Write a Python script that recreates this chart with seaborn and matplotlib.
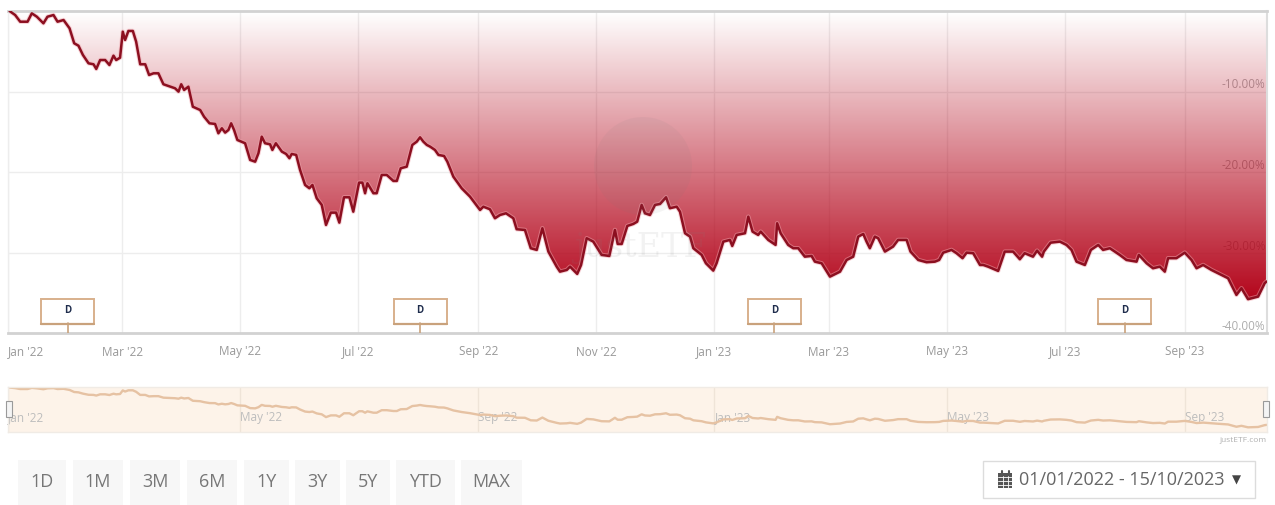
import numpy as np
import pandas as pd
import matplotlib
matplotlib.use("Agg")
import matplotlib.pyplot as plt
import matplotlib.dates as mdates
from matplotlib.patches import Rectangle, Circle
from matplotlib.transforms import ScaledTranslation
import seaborn as sns

# ---- data -------------------------------------------------------------
days = [0.8,3.7,6.3,10.1,12.3,14.9,18.3,20.4,23.5,25.6,28.7,31.8,34.2,36.4,38.7,41.6,44.2,45.6,47.6,50.2,
        52.4,54.5,55.9,57.9,59.3,60.5,62.2,64.5,66.2,68.3,70.9,72.9,75.2,77.7,80.3,83.8,86.3,88.1,89.5,91,
        93.2,95.5,99.3,101.3,104.1,107,108.7,110.5,112.2,113.9,115.3,116.8,118.5,122.5,125.1,127.7,129.4,131.1,132.8,135.4,
        136.6,138.4,141.5,143.7,145.4,146.6,148.9,150.9,153.5,155.7,157.3,159.5,162.1,164.3,166.8,169.5,171.2,173.6,176.4,178.4,
        181.4,183.1,184.5,185.7,188.8,190.5,193.1,195.7,199.1,200.9,202.9,206,208.9,211.2,212.9,214.6,216.4,218.1,220.6,222.4,
        225.3,227,230.1,234.4,238.7,243.9,245.6,249,251.6,254.2,257.3,261.1,262.8,267.1,270.1,273.2,276.1,279.2,283.5,285.2,
        288.7,290.4,294.1,296.1,299,302.4,306.7,310.7,313.6,315,317.1,320,323.1,325.1,327.4,329.1,331.7,334.3,336.9,340,
        342,345.5,347.2,349.8,352.4,354.1,358.4,360.6,364.4,366.1,369.6,373,374.2,376.5,380.8,382.5,384.7,387.6,388.9,392.8,
        396.6,397.4,399.2,403.1,405.7,408.3,411.7,415.2,416.9,420.4,424.7,429.9,433.3,436.7,439.3,441.9,443.6,445.3,447.9,449.6,
        453.1,457.3,459.9,464.3,466.3,470.3,474.6,478.9,481.1,483.2,487.5,490.1,493.2,495.3,498.7,502.2,503.9,506.4,511.6,515,
        519.3,522.8,525.3,529.6,531.7,534.3,535.2,538.7,543.5,546.9,549.5,552.1,556.4,559.5,563.3,565.8,569.3,574.4,577.9,583.1,
        584.3,588.3,591.6,595.1,597.7,599.4,603.7,608,611.5,614.1,617.5,621.8,625.2,630.4,634.7,637.3,640.7,645.9,649.3,650.3]
returns = [0,-0.5,-1.33,-1.33,-0.29,-0.71,-1.53,-0.71,-0.5,-1.33,-1.12,-2.15,-4.01,-4.31,-5.46,-6.5,-6.62,-7.2,-6.09,-6.09,
           -6.71,-5.55,-6.09,-5.8,-2.57,-3.6,-2.48,-2.48,-3.81,-6.62,-6.62,-7.95,-7.74,-7.74,-9.1,-9.4,-9.6,-10.02,-9.1,-9.81,
           -9.4,-11.89,-12.3,-13.13,-13.95,-14.03,-15.19,-14.57,-15.11,-14.78,-13.95,-14.78,-16.02,-16.43,-18.5,-18.72,-17.67,-15.61,-16.43,-16.56,
           -17.26,-16.43,-17.47,-17.76,-18.29,-17.76,-17.88,-19.75,-21.61,-22.02,-21.61,-23.26,-24.09,-26.58,-25.05,-25.05,-26.29,-23.14,-23.14,-24.93,
           -21.32,-21.32,-22.64,-21.4,-22.64,-22.64,-20.37,-20.37,-21.11,-21.11,-19.54,-19.34,-16.64,-16.23,-15.69,-16.23,-16.64,-16.85,-17.26,-17.88,
           -18.01,-18.72,-20.58,-22.02,-23.06,-24.72,-24.31,-24.63,-25.75,-25.34,-25.13,-25.75,-27.11,-27.2,-29.47,-29.68,-26.99,-29.89,-31.76,-32.38,
           -32.17,-31.76,-32.66,-31.55,-28.23,-28.65,-30.3,-30.43,-27.2,-28.94,-28.94,-26.7,-26.45,-26.17,-24.09,-25.13,-25.34,-24.09,-23.97,-23.14,
           -24.5,-24.31,-24.93,-27.61,-28.03,-29.47,-30.3,-31.34,-32.25,-31.34,-28.65,-28.44,-29.19,-27.82,-27.61,-25.55,-27.41,-27.82,-27.41,-28.44,
           -29.06,-26.37,-27.61,-29.06,-29.47,-29.47,-30.52,-30.43,-31.14,-31.34,-33.0,-32.38,-30.93,-30.52,-28.03,-27.7,-28.65,-29.47,-28.03,-28.23,
           -29.89,-29.27,-28.44,-28.44,-29.89,-30.93,-31.21,-31.14,-30.93,-30.02,-29.68,-30.09,-30.71,-30.02,-30.09,-31.55,-31.55,-31.76,-32.29,-29.89,
           -29.89,-30.84,-30.09,-30.52,-29.77,-30.52,-29.89,-28.78,-28.65,-29.06,-29.68,-31.14,-31.55,-29.68,-29.06,-29.68,-29.47,-30.3,-30.93,-31.14,
           -30.3,-31.34,-31.96,-31.76,-32.38,-30.71,-30.71,-30.02,-30.93,-31.96,-31.55,-32.17,-32.58,-33.2,-35.27,-34.44,-35.8,-35.48,-33.82,-33.6]
month_ticks = ["2022-03-01","2022-05-01","2022-07-01","2022-09-01","2022-11-01","2023-01-01",
               "2023-03-01","2023-05-01","2023-07-01","2023-09-01"]
month_labels = ["Mar '22","May '22","Jul '22","Sep '22","Nov '22","Jan '23","Mar '23","May '23","Jul '23","Sep '23"]
first_tick, first_label = "2022-01-01", "Jan '22"
nav_ticks = ["2022-01-01","2022-05-01","2022-09-01","2023-01-01","2023-05-01","2023-09-01"]
nav_labels = ["Jan '22","May '22","Sep '22","Jan '23","May '23","Sep '23"]
y_ticks = [-10, -20, -30, -40]
y_labels = ["-10.00%", "-20.00%", "-30.00%", "-40.00%"]
dividend_dates = ["2022-02-01", "2022-08-02", "2023-02-01", "2023-08-01"]
range_buttons = ["1D","1M","3M","6M","1Y","3Y","5Y","YTD","MAX"]
date_range = "01/01/2022 - 15/10/2023"

# ---- setup ------------------------------------------------------------
W, H = 1275, 505
sns.set_theme(style="white")
plt.rcParams["font.family"] = ["Open Sans", "DejaVu Sans"]
fig = plt.figure(figsize=(W/100, H/100), dpi=100, facecolor="white")

def axes_px(l, t, r, b, **kw):
    return fig.add_axes([l/W, 1-b/H, (r-l)/W, (b-t)/H], **kw)

df = pd.DataFrame({"date": pd.Timestamp("2022-01-01") + pd.to_timedelta(days, unit="D"), "ret": returns})
x0, x1 = pd.Timestamp("2022-01-01"), pd.Timestamp("2022-01-01") + pd.Timedelta(days=650.5)
GRID, TXT = "#ededed", "#999999"

# ---- main chart -------------------------------------------------------
ax = axes_px(8, 11, 1267, 333)
ax.set_axisbelow(True)
poly = ax.fill_between(df["date"], df["ret"], 0, facecolor="none", edgecolor="none")
alpha = np.linspace(0, 1, 256)[:, None]
rgba = np.dstack([np.full_like(alpha, 0.70), np.zeros_like(alpha), np.full_like(alpha, 0.09), alpha])
im = ax.imshow(rgba, extent=[mdates.date2num(x0), mdates.date2num(x1), -36.5, 0], aspect="auto",
               origin="upper", zorder=1.5, interpolation="bilinear")
im.set_clip_path(poly.get_paths()[0], transform=ax.transData)
sns.lineplot(data=df, x="date", y="ret", ax=ax, estimator=None, color="#f0a8b0", lw=3.2, alpha=.5, zorder=2)
sns.lineplot(data=df, x="date", y="ret", ax=ax, estimator=None, color="#8c0f20", lw=1.8, zorder=3)
ax.set_xlim(x0, x1); ax.set_ylim(-40, 0)
ax.set_xlabel(""); ax.set_ylabel("")
ax.set_xticks(pd.to_datetime([first_tick] + month_ticks))
ax.set_xticklabels([first_label] + month_labels, fontsize=8.5, color=TXT)
ax.get_xticklabels()[0].set_ha("left")
ax.yaxis.tick_right()
ax.set_yticks(y_ticks)
ax.set_yticklabels(y_labels, fontsize=8.5, color=TXT)
ax.tick_params(axis="x", length=0, pad=9)
ax.tick_params(axis="y", length=0, pad=-1)
for t in ax.get_yticklabels():
    t.set_ha("right"); t.set_va("bottom"); t.set_alpha(.8)
ax.grid(True, color=GRID, lw=1)
for s, (c, w) in {"top": ("#d2d2d2", 2), "bottom": ("#d2d2d2", 2), "right": ("#dddddd", 1.5), "left": (GRID, 1)}.items():
    ax.spines[s].set_color(c); ax.spines[s].set_linewidth(w)

# dividend flags on the main chart
for d in dividend_dates:
    dn = pd.Timestamp(d)
    ax.annotate("D", xy=(dn, -40), xytext=(0, 22.5), textcoords="offset pixels", xycoords="data",
                ha="center", va="center", fontsize=7, fontweight="bold", color="#1f2d4d", zorder=6)
    ax.plot([dn, dn], [-40, -38.8], color="#c9a27c", lw=1.2, zorder=5)

# ---- navigator --------------------------------------------------------
nav = axes_px(8, 387, 1267, 432)
nav.set_facecolor("#fdf3e9")
sns.lineplot(data=df, x="date", y="ret", ax=nav, estimator=None, color="#e6c2a3", lw=1.7)
nav.set_xlim(x0, x1); nav.set_ylim(-40, 0.5)
nav.set_xlabel(""); nav.set_ylabel(""); nav.set_yticks([])
nav.set_xticks(pd.to_datetime(nav_ticks)); nav.set_xticklabels(nav_labels, fontsize=8.5, color="#bdbdbd")
shift = ScaledTranslation(4/100, 0, fig.dpi_scale_trans)
for i, t in enumerate(nav.get_xticklabels()):
    t.set_ha("left")
    if i:
        t.set_transform(t.get_transform() + shift)
nav.tick_params(axis="x", length=0, direction="in", pad=-15)
nav.grid(True, axis="x", color="#efe4d8", lw=1)
for s in nav.spines.values():
    s.set_color("#f0ebe5"); s.set_linewidth(1)

# ---- page chrome ------------------------------------------------------
ui = fig.add_axes([0, 0, 1, 1], facecolor="none")
ui.set_xlim(0, W); ui.set_ylim(H, 0); ui.axis("off")

# flag boxes
for d in dividend_dates:
    cx = 8 + (pd.Timestamp(d) - x0) / (x1 - x0) * 1259
    ui.add_patch(Rectangle((cx - 26.5, 299), 53, 25, fc="none", ec="#d8b08c", lw=1.4))
    ui.plot([cx - 26.5, cx + 26.5], [324, 324], color="#c9a27c", lw=1.6)

# watermark
ui.add_patch(Circle((643, 166), 49, fc="#7a7a7a", ec="none", alpha=.08))
ui.text(640, 248, "justETF", ha="center", va="center", fontsize=24, color="#808080", alpha=.10, family="DejaVu Serif")

# navigator handles and credit
for hx in (9, 1266):
    ui.add_patch(Rectangle((hx - 3, 401), 6, 16, fc="#f4f4f4", ec="#9a9a9a", lw=.8))
ui.text(1267, 440, "justETF.com", ha="right", va="center", fontsize=6, color="#b0b0b0")

# range buttons
spans = [(18,66),(73,123),(130,180),(187,237),(244,289),(295,340),(346,390),(396,455),(461,522)]
for (a, b), lab in zip(spans, range_buttons):
    ui.add_patch(Rectangle((a, 460), b - a, 45, fc="#f7f7f7", ec="none"))
    ui.text((a + b) / 2, 482, lab, ha="center", va="center", fontsize=13, color="#777777")

# date picker
ui.add_patch(Rectangle((983, 461), 272, 37, fc="white", ec="#dcdcdc", lw=1))
ui.add_patch(Rectangle((998, 473), 14, 15, fc="#555555", ec="none"))
for gx in (1002.5, 1007.5):
    ui.plot([gx, gx], [476, 488], color="white", lw=.6)
for gy in (476.5, 481, 484.5):
    ui.plot([998, 1012], [gy, gy], color="white", lw=.6)
ui.plot([1001.5, 1001.5], [470.5, 474], color="#555555", lw=1.5)
ui.plot([1008.5, 1008.5], [470.5, 474], color="#555555", lw=1.5)
ui.text(1019, 480, date_range, ha="left", va="center", fontsize=13, color="#666666")
ui.text(1236, 480, "\u25BC", ha="center", va="center", fontsize=8.5, color="#444444", family="DejaVu Sans")

fig.savefig("out.png", dpi=100, facecolor="white")
